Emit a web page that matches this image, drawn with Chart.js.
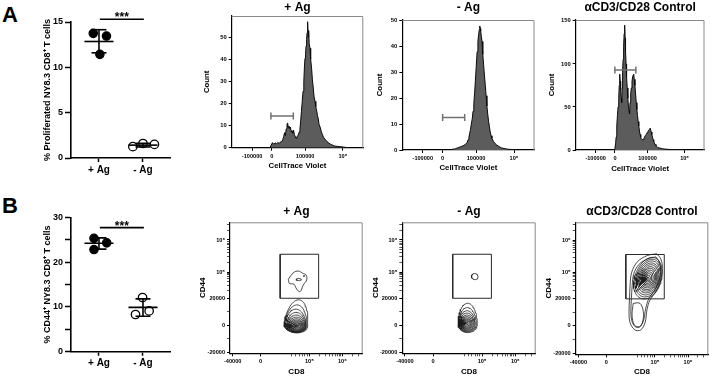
<!DOCTYPE html>
<html><head><meta charset="utf-8">
<script src="https://cdn.jsdelivr.net/npm/chart.js@4.4.1/dist/chart.umd.min.js"></script>
<style>
html,body{margin:0;padding:0;background:#fff;}
body{position:relative;width:710px;height:377px;overflow:hidden;}
canvas{position:absolute;}
.panel{position:absolute;margin:0;font:bold 22px/1 "Liberation Sans",Arial,sans-serif;color:#000;}
</style></head>
<body>
<div class="panel" style="left:2px;top:4px">A</div>
<div class="panel" style="left:2px;top:195px">B</div>
<canvas id="dotA" width="200" height="185" style="left:0;top:0"></canvas>
<canvas id="histPlus" width="174" height="178" style="left:196px;top:0"></canvas>
<canvas id="histMinus" width="170" height="178" style="left:370px;top:0"></canvas>
<canvas id="histCtrl" width="170" height="178" style="left:540px;top:0"></canvas>
<canvas id="dotB" width="200" height="187" style="left:0;top:190px"></canvas>
<canvas id="contPlus" width="174" height="181" style="left:196px;top:196px"></canvas>
<canvas id="contMinus" width="170" height="181" style="left:370px;top:196px"></canvas>
<canvas id="contCtrl" width="170" height="181" style="left:540px;top:196px"></canvas>
<script>
// ---------------- DATA ----------------
const groups = ['+ Ag', '- Ag'];
const groupPos = [1, 2];
const sigX = [1.02, 2.02];
const sigText = '***';

// A: % proliferated
const prolifPlusX = [0.87, 1.17, 1.02];
const prolifPlusY = [13.75, 13.45, 11.43];
const prolifMinusX = [1.77, 2.0, 2.26];
const prolifMinusY = [1.25, 1.6, 1.5];
const prolifMean = [12.85, 1.42];
const prolifLo = [11.6, 1.22];
const prolifHi = [14.15, 1.62];
const prolifTicks = [0, 5, 10, 15];
const prolifTickLabels = ['0', '5', '10', '15'];

// B: % CD44+
const cd44PlusX = [0.886, 1.175, 0.886];
const cd44PlusY = [25.3, 24.3, 22.8];
const cd44MinusX = [1.99, 1.83, 2.14];
const cd44MinusY = [12.1, 8.3, 9.1];
const cd44Mean = [24.2, 9.9];
const cd44Lo = [22.9, 7.9];
const cd44Hi = [25.4, 11.8];
const cd44Ticks = [0, 5, 10, 15, 20, 25, 30];
const cd44TickLabels = ['0', '', '10', '', '20', '', '30'];

// Histograms (x in display channels 0..1000)
const histTickPos = [155, 305, 558, 845];
const histTickLabels = ['-100000', '0', '100000', '10\u2076'];
const histYTicksPlus = [0, 10, 20, 30, 40, 50];
const histYTicksMinus = [0, 10, 20, 30, 40, 50];
const histYTicksCtrl = [0, 50, 100, 150];

const plusAgCh = [291,300,310,320,330,340,350,360,370,380,388,395,402,408,414,420,425,430,435,440,446,452,458,464,470,476,482,488,494,500,506,512,518,524,530,536,542,548,553,557,561,565,569,573,577,581,585,589,595,600,607,613,620,626,633,639,645,652,658,664,671,680,690,700,712,724,736,750,765,780,800,820,848,870,900];
const plusAgCount = [0,1.2,2.3,1.5,2.2,1.8,2.4,1.9,2.6,2.8,3.6,5,6.8,5.5,8.5,10.5,11.2,9,9.8,8.6,9.3,7.2,7.8,6.5,7.9,6,5,4.4,4.2,5.2,5.8,7,8.2,12,16.5,21,25.5,30,37,40.5,42,46,49,52,57,50,53,47,45,40,36,31,27,23,21,18.5,17,14.5,13,10.5,9.5,7.5,5.8,4.5,3.6,2.8,2.2,1.6,1.2,0.8,0.6,0.5,0.3,0.1,0];

const minusAgCh = [370,380,395,405,417,429,441,454,466,479,491,498,504,510,516,522,529,535,541,547,553,559,566,572,578,582,586,590,593,598,603,609,615,621,628,634,640,646,653,659,665,672,678,690,702,715,727,740,752,777,802,830,851];
const minusAgCount = [0,0.3,0.4,0.6,0.8,1.0,1.3,1.5,1.8,2.2,3,4,5,6.5,8,10,12,15,18,22,27,32,38,42,45,46.5,48,47,46,44,42,37,33,29,25,21,17,14,11,9,7,5.5,4.5,3.3,2.5,1.9,1.5,1.1,0.8,0.5,0.3,0.15,0];

const ctrlCh = [300,304,310,314,319,324,329,334,338,342,345,349,353,357,361,364,368,372,376,380,384,387,391,395,400,405,410,415,418,422,427,432,437,442,446,450,455,460,465,470,475,480,485,490,495,500,505,510,516,523,529,535,541,548,554,560,566,573,577,580,586,591,596,601,606,611,617,623,630,636,648,661,674,686,711,736,762,787,812,837];
const ctrlCount = [0,1,8,15,28,40,50,60,75,88,80,70,60,55,72,90,105,120,135,145,130,115,100,85,72,60,50,45,42,55,65,72,80,85,87,88,82,75,65,55,47,40,33,28,22,18,15,13,12,12,13.5,15,17,18,20,21,23,24,25,24.5,21,18,15,12,10,8,6.5,5,4,3,2.4,2,1.5,1.2,0.8,0.6,0.4,0.3,0.15,0];

const histGateLeft = [298, 305, 304];
const histGateRight = [468, 472, 467];
const histGateLevel = [14.3, 12.6, 93];

// Contour plots (display channels 0..1000 on both axes)
const contourXTickPos = [20, 231, 598, 847];
const contourXTickLabels = ['-40000', '0', '10\u2075', '10\u2076'];
const contourXMinorPos = [465, 495, 520, 545, 565, 582, 673, 717, 748, 772, 792, 808, 822, 835, 922, 966];
const contourYTickPos = [8, 216, 422, 620, 865];
const contourYTickLabels = ['-20000', '0', '20000', '10\u2075', '10\u2076'];
const contourYMinorPos = [110, 318, 480, 520, 548, 570, 588, 600, 611, 694, 737, 768, 791, 811, 827, 841, 853, 939, 982];
const gateX = [378, 668];
const gateY = [420, 756];

// rings: [cx, cy, rx, ryTop, ryBottom, angleDeg]
const contourPlusRings = [
  [495,212,88,198,55,-8],[493,210,82,160,52,-6],[496,209,77,128,49,0],[498,208,71,104,46,0],
  [499,207,65,85,43,0],[500,206,59,70,40,0],[501,205,53,58,37,0],[502,205,46,48,33,0],
  [503,205,39,39,29,0],[504,205,31,31,24,0],[505,206,23,23,18,0],[506,207,14,14,11,0],[507,208,6,6,5,0],
  [518,563,20,8,8,0],[558,590,3,3,3,0]
];
const contourPlusBlob = [[440,565],[477,615],[515,628],[548,611],[573,598],[578,560],[552,521],[528,470],[503,489],[482,527],[447,534]];

const contourMinusRings = [
  [490,222,72,160,64,0],[488,221,66,128,59,0],[486,222,60,103,55,0],[485,223,54,84,50,0],
  [484,224,48,68,45,0],[482,225,42,55,40,0],[481,226,36,44,35,0],[480,227,30,34,29,0],
  [479,228,23,25,22,0],[478,229,15,16,14,0],[478,229,7,7,6,0],
  [543,585,25,24,22,-20]
];

const contourCtrlRings = [
  [542,565,100,175,150,-18],[544,566,92,160,135,-18],[545,567,84,145,120,-18],
  [546,568,76,128,105,-18],[547,569,68,113,92,-18],[547,569,60,98,80,-18],[547,570,52,84,68,-18],
  [547,570,44,70,56,-18],[546,570,36,56,45,-18],[545,570,27,42,34,-18],[544,570,18,28,22,-18],[544,570,9,14,11,-18]
];
const contourCtrlOuter = [[611,762],[642,722],[654,650],[642,560],[602,470],[560,411],[538,340],[523,240],[490,184],[445,186],[410,240],[402,320],[406,420],[410,520],[422,620],[466,702],[540,748]];
const contourCtrlOuter2 = [[604,738],[630,702],[641,640],[629,560],[593,482],[553,425],[528,348],[512,258],[482,206],[450,208],[424,252],[416,322],[420,420],[426,520],[438,610],[478,682],[540,722]];
const contourCtrlTailInner = [[434,386],[425,298],[442,222],[480,209],[505,247],[510,323],[485,386]];

// ---------------- RENDERING ----------------
Chart.defaults.font.family = '"Liberation Sans", Arial, sans-serif';
Chart.defaults.color = '#000';

const framePlugin = {
  id: 'frame',
  afterDatasetsDraw(c) {
    const {ctx, chartArea: a} = c;
    ctx.save();
    ctx.strokeStyle = '#8a8a8a';
    ctx.lineWidth = 1;
    ctx.beginPath();
    ctx.moveTo(a.left, a.top + 0.5);
    ctx.lineTo(a.right - 0.5, a.top + 0.5);
    ctx.lineTo(a.right - 0.5, a.bottom);
    ctx.stroke();
    ctx.restore();
  }
};

const sigPlugin = {
  id: 'sig',
  afterDatasetsDraw(c, args, opts) {
    const {ctx} = c;
    const x = (c.scales.x.getPixelForValue(sigX[0]) + c.scales.x.getPixelForValue(sigX[1])) / 2;
    const y = c.scales.y.getPixelForValue(opts.level);
    ctx.save();
    ctx.font = 'bold 12px "Liberation Sans", Arial, sans-serif';
    ctx.fillStyle = '#000';
    ctx.textAlign = 'center';
    ctx.textBaseline = 'alphabetic';
    ctx.fillText(sigText, x, y + 2);
    ctx.restore();
  }
};

function lineDs(pts, extra) {
  return Object.assign({data: pts, showLine: true, pointRadius: 0, borderColor: '#000', borderWidth: 1.6, fill: false}, extra || {});
}

function dotChart(id, d) {
  const ds = [];
  d.mean.forEach((m, i) => {
    const g = groupPos[i];
    ds.push(lineDs([{x: g - 0.33, y: m}, {x: g + 0.33, y: m}]));
    ds.push(lineDs([{x: g, y: d.lo[i]}, {x: g, y: d.hi[i]}]));
    ds.push(lineDs([{x: g - 0.17, y: d.lo[i]}, {x: g + 0.17, y: d.lo[i]}]));
    ds.push(lineDs([{x: g - 0.17, y: d.hi[i]}, {x: g + 0.17, y: d.hi[i]}]));
  });
  ds.push(lineDs([{x: sigX[0], y: d.sig}, {x: sigX[1], y: d.sig}], {clip: false}));
  ds.push({data: d.plusX.map((x, i) => ({x, y: d.plusY[i]})), showLine: false, pointRadius: 4.2, pointBackgroundColor: '#000', pointBorderColor: '#000', pointBorderWidth: 1.2, clip: false});
  ds.push({data: d.minusX.map((x, i) => ({x, y: d.minusY[i]})), showLine: false, pointRadius: 4.2, pointBackgroundColor: '#fff', pointBorderColor: '#000', pointBorderWidth: 1.3, clip: false});
  new Chart(document.getElementById(id), {
    type: 'scatter',
    data: {datasets: ds},
    options: {
      responsive: false, animation: false, devicePixelRatio: 1,
      layout: {padding: {left: 0, top: d.top, right: 30, bottom: 0}},
      plugins: {legend: {display: false}, tooltip: {enabled: false}, sig: {level: d.sig}},
      scales: {
        x: {
          type: 'linear', min: 0.364, max: 2.614,
          afterBuildTicks: s => { s.ticks = groupPos.map(v => ({value: v})); },
          afterFit: s => { s.height = d.xh; },
          grid: {drawOnChartArea: false, drawTicks: true, tickLength: 4, tickColor: '#000', tickWidth: 1.5},
          border: {display: true, color: '#000', width: 1.6},
          ticks: {autoSkip: false, maxRotation: 0, padding: 2, color: '#000', font: {size: 10, weight: 'bold'}, callback: (v, i) => groups[i]}
        },
        y: {
          type: 'linear', min: 0, max: d.yMax,
          afterBuildTicks: s => { s.ticks = d.yTicks.map(v => ({value: v})); },
          afterFit: s => { s.width = 71; },
          grid: {drawOnChartArea: false, drawTicks: true, tickLength: 6, tickColor: '#000', tickWidth: 1.5},
          border: {display: true, color: '#000', width: 1.6},
          ticks: {autoSkip: false, padding: 2, color: '#000', font: {size: 9, weight: 'bold'}, callback: (v, i) => d.yLabels[i]},
          title: {display: true, text: d.title, color: '#000', font: {size: 9, weight: 'bold'}, padding: {top: 42.6, bottom: 0}}
        }
      }
    },
    plugins: [sigPlugin]
  });
}

dotChart('dotA', {plusX: prolifPlusX, plusY: prolifPlusY, minusX: prolifMinusX, minusY: prolifMinusY,
  mean: prolifMean, lo: prolifLo, hi: prolifHi, yMax: 15, yTicks: prolifTicks, yLabels: prolifTickLabels,
  sig: 15.3, top: 22, xh: 27, title: '% Proliferated NY8.3 CD8\u207A T cells'});
dotChart('dotB', {plusX: cd44PlusX, plusY: cd44PlusY, minusX: cd44MinusX, minusY: cd44MinusY,
  mean: cd44Mean, lo: cd44Lo, hi: cd44Hi, yMax: 30, yTicks: cd44Ticks, yLabels: cd44TickLabels,
  sig: 27.7, top: 27.3, xh: 25.3, title: '% CD44\u207A NY8.3 CD8\u207A T cells'});

function histChart(id, h) {
  const ds = [
    {data: [{x: h.gl, y: h.gv}, {x: h.gr, y: h.gv}], showLine: true, borderColor: '#707070', borderWidth: 1.5,
     pointStyle: 'line', rotation: 90, pointRadius: 3.5, pointBorderColor: '#707070', pointBorderWidth: 1.5, pointBackgroundColor: '#707070'},
    {data: h.ch.map((x, i) => ({x, y: h.count[i]})), showLine: true, pointRadius: 0, borderColor: '#0a0a0a', borderWidth: 1,
     backgroundColor: '#5c5c5c', fill: 'origin', tension: 0}
  ];
  new Chart(document.getElementById(id), {
    type: 'scatter',
    data: {datasets: ds},
    options: {
      responsive: false, animation: false, devicePixelRatio: 1,
      layout: {padding: {left: 0, top: 0, right: h.pr, bottom: 0}},
      plugins: {
        legend: {display: false}, tooltip: {enabled: false},
        title: {display: true, text: h.title, fullSize: false, color: '#000', font: {size: 12, weight: 'bold', lineHeight: 1.2}, padding: {top: h.tpt, bottom: h.tpb}}
      },
      scales: {
        x: {
          type: 'linear', min: 0, max: 1000,
          afterBuildTicks: s => { s.ticks = histTickPos.map(v => ({value: v})); },
          afterFit: s => { s.height = h.xh; },
          grid: {drawOnChartArea: false, drawTicks: true, tickLength: 3, tickColor: '#000', tickWidth: 1},
          border: {display: true, color: '#000', width: 1.2},
          ticks: {autoSkip: false, maxRotation: 0, padding: 2, color: '#000', font: {size: 5.6, weight: 'bold'}, callback: (v, i) => histTickLabels[i]},
          title: {display: true, text: 'CellTrace Violet', color: '#000', font: {size: 7.8, weight: 'bold', lineHeight: 1.2}, padding: {top: 0, bottom: h.xtp}}
        },
        y: {
          type: 'linear', min: 0, max: h.yMax,
          afterBuildTicks: s => { s.ticks = h.yTicks.map(v => ({value: v})); },
          ticks: {autoSkip: false, padding: 2, color: '#000', font: {size: 5.8, weight: 'bold'}, callback: (v, i) => String(h.yTicks[i])},
          afterFit: s => { s.width = h.yw; },
          grid: {drawOnChartArea: false, drawTicks: true, tickLength: 3, tickColor: '#000', tickWidth: 1},
          border: {display: true, color: '#000', width: 1.2},
          title: {display: true, text: 'Count', color: '#000', font: {size: 7.8, weight: 'bold', lineHeight: 1.2}, padding: {top: h.ytp, bottom: 0}}
        }
      }
    },
    plugins: [framePlugin]
  });
}

histChart('histPlus', {ch: plusAgCh, count: plusAgCount, gl: histGateLeft[0], gr: histGateRight[0], gv: histGateLevel[0], yTicks: histYTicksPlus,
  title: '+ Ag', yMax: 59.6, yw: 35.7, pr: 6.7, xh: 30.3, tpt: 0.3, tpb: 1.3, ytp: 6, xtp: 7.5});
histChart('histMinus', {ch: minusAgCh, count: minusAgCount, gl: histGateLeft[1], gr: histGateRight[1], gv: histGateLevel[1], yTicks: histYTicksMinus,
  title: '- Ag', yMax: 50.3, yw: 32.3, pr: 3.3, xh: 28, tpt: 0.1, tpb: 5.5, ytp: 5, xtp: 5});
histChart('histCtrl', {ch: ctrlCh, count: ctrlCount, gl: histGateLeft[2], gr: histGateRight[2], gv: histGateLevel[2], yTicks: histYTicksCtrl,
  title: '\u03B1CD3/CD28 Control', yMax: 151, yw: 35.7, pr: 1.7, xh: 28, tpt: 0.1, tpb: 5.5, ytp: 7.3, xtp: 4.3});

function ringPoints(r) {
  const [cx, cy, rx, ryT, ryB, ang] = r;
  const a = ang * Math.PI / 180, pts = [];
  for (let i = 0; i <= 64; i++) {
    const t = i / 64 * 2 * Math.PI;
    const lx = rx * Math.cos(t);
    const ly = (Math.sin(t) >= 0 ? ryT : ryB) * Math.sin(t);
    pts.push({x: cx + lx * Math.cos(a) - ly * Math.sin(a), y: cy + lx * Math.sin(a) + ly * Math.cos(a)});
  }
  return pts;
}
function polyPoints(p) {
  const pts = p.map(([x, y]) => ({x, y}));
  pts.push({x: p[0][0], y: p[0][1]});
  return pts;
}

function contourChart(id, c) {
  const ds = [];
  ds.push({data: polyPoints([[gateX[0], gateY[0]], [gateX[1], gateY[0]], [gateX[1], gateY[1]], [gateX[0], gateY[1]]]),
    showLine: true, pointRadius: 0, borderColor: '#2a2a2a', borderWidth: 1, fill: false, tension: 0});
  c.rings.forEach(r => ds.push({data: ringPoints(r), showLine: true, pointRadius: 0, borderColor: '#1c1c1c', borderWidth: 0.8, fill: false, tension: 0}));
  (c.polys || []).forEach(p => ds.push({data: polyPoints(p), showLine: true, pointRadius: 0, borderColor: '#1c1c1c', borderWidth: 0.8, fill: false, tension: 0.35}));
  const xAll = contourXTickPos.concat(contourXMinorPos).sort((a, b) => a - b);
  const yAll = contourYTickPos.concat(contourYMinorPos).sort((a, b) => a - b);
  new Chart(document.getElementById(id), {
    type: 'scatter',
    data: {datasets: ds},
    options: {
      responsive: false, animation: false, devicePixelRatio: 1,
      layout: {padding: {left: 0, top: 0, right: c.pr, bottom: 0}},
      plugins: {
        legend: {display: false}, tooltip: {enabled: false},
        title: {display: true, text: c.title, fullSize: false, color: '#000', font: {size: 12, weight: 'bold', lineHeight: 1.2}, padding: {top: 8.8, bottom: 3.1}}
      },
      scales: {
        x: {
          type: 'linear', min: 0, max: 1000,
          afterBuildTicks: s => { s.ticks = xAll.map(v => ({value: v})); },
          afterFit: s => { s.height = c.xh; },
          grid: {drawOnChartArea: false, drawTicks: true, tickLength: 3, tickWidth: 1,
                 tickColor: g => contourXTickPos.includes(g.tick && g.tick.value) ? '#000' : '#555'},
          border: {display: true, color: '#000', width: 1.2},
          ticks: {autoSkip: false, maxRotation: 0, padding: 2, color: '#000', font: {size: 5.6, weight: 'bold'},
                  callback: v => { const k = contourXTickPos.indexOf(v); return k >= 0 ? contourXTickLabels[k] : ''; }},
          title: {display: true, text: 'CD8', color: '#000', font: {size: 8, weight: 'bold', lineHeight: 1.2}, padding: {top: 0, bottom: 0.6}}
        },
        y: {
          type: 'linear', min: 0, max: 1000,
          afterBuildTicks: s => { s.ticks = yAll.map(v => ({value: v})); },
          afterFit: s => { s.width = c.yw; },
          grid: {drawOnChartArea: false, drawTicks: true, tickLength: 3, tickWidth: 1,
                 tickColor: g => contourYTickPos.includes(g.tick && g.tick.value) ? '#000' : '#555'},
          border: {display: true, color: '#000', width: 1.2},
          ticks: {autoSkip: false, padding: 2, color: '#000', font: {size: 5.6, weight: 'bold'},
                  callback: v => { const k = contourYTickPos.indexOf(v); return k >= 0 ? contourYTickLabels[k] : ''; }},
          title: {display: true, text: 'CD44', color: '#000', font: {size: 8, weight: 'bold', lineHeight: 1.2}, padding: {top: c.ytp, bottom: 0}}
        }
      }
    },
    plugins: [framePlugin]
  });
}

contourChart('contPlus', {title: '+ Ag', rings: contourPlusRings, polys: [contourPlusBlob], yw: 34, pr: 7.3, xh: 23.7, ytp: 2.3});
contourChart('contMinus', {title: '- Ag', rings: contourMinusRings, polys: [], yw: 32.3, pr: 4.3, xh: 23.7, ytp: 0.6});
contourChart('contCtrl', {title: '\u03B1CD3/CD28 Control', rings: contourCtrlRings, polys: [contourCtrlOuter, contourCtrlOuter2, contourCtrlTailInner], yw: 35.7, pr: 1.7, xh: 22.7, ytp: 4.2});
</script>
</body></html>
